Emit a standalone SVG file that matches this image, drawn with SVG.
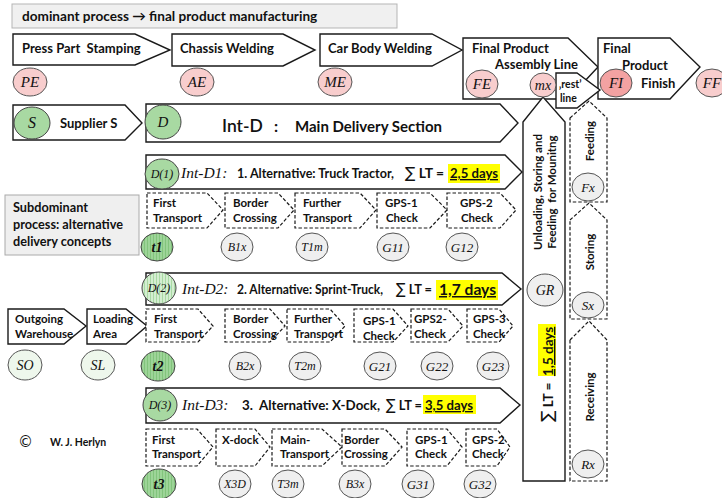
<svg xmlns="http://www.w3.org/2000/svg" width="722" height="498" viewBox="0 0 722 498">
<defs>
<pattern id="stG" width="3" height="3" patternUnits="userSpaceOnUse"><rect width="3" height="3" fill="#9dd498"/><rect width="1" height="3" fill="#82c47c"/></pattern>
<pattern id="stL" width="3" height="3" patternUnits="userSpaceOnUse"><rect width="3" height="3" fill="#d4eed1"/><rect width="1" height="3" fill="#a9d9a4"/></pattern>
<style>
.b{fill:#fff;stroke:#1a1a1a;stroke-width:1.4}
.d{fill:#fff;stroke:#1a1a1a;stroke-width:1.2;stroke-dasharray:3.5 2}
.t{font-family:Lato,"Liberation Sans",sans-serif;font-weight:bold;font-size:13px;fill:#111}
.s{font-size:11.5px}
.a{font-size:13.5px}
.cp{fill:#f8cdcd;stroke:#555;stroke-width:1}
.cf{fill:#f3a2a2;stroke:#555;stroke-width:1}
.cg{fill:#a8d9a2;stroke:#444;stroke-width:1}
.ct{fill:url(#stG);stroke:#444;stroke-width:1}
.cs{fill:url(#stL);stroke:#444;stroke-width:1}
.cw{fill:#efefef;stroke:#555;stroke-width:1}
.cl{fill:#eef7ec;stroke:#555;stroke-width:1}
.l{font-family:"Liberation Serif","DejaVu Serif",serif;font-style:italic;font-size:14px;fill:#111;text-anchor:middle}
.l12{font-size:12px}
.l13{font-size:13px}
.l15{font-size:15px}
.i{font-family:"Liberation Serif","DejaVu Serif",serif;font-style:italic;font-size:15.5px;fill:#111}
.hl{fill:#ffff00}
.u{text-decoration:underline}
.sg{font-weight:normal;font-family:"DejaVu Sans",sans-serif;font-size:15px}
</style>
</defs>

<g id="title"><rect x="12" y="4" width="385" height="24" fill="#f0f0f0" stroke="#b5b5b5"/><text class="t" x="22" y="21" style="font-size:13.6px">dominant process → final product manufacturing</text></g>

<g id="press"><polygon class="b" points="13,34 135,34 170,50 135,65 13,65"/><text class="t" x="22" y="53" xml:space="preserve">Press Part  Stamping</text></g>
<g id="chassis"><polygon class="b" points="172,34 283,34 315,50 283,66 172,66"/><text class="t" x="180" y="53">Chassis Welding</text></g>
<g id="carbody"><polygon class="b" points="320,34 432,34 462,50 432,66 320,66"/><text class="t" x="328" y="53">Car Body Welding</text></g>
<g id="assembly"><polygon class="b" points="463,38 568,38 598,67 568,99 463,99"/><text class="t" x="472" y="53">Final Product</text><text class="t" x="495" y="69">Assembly Line</text></g>
<g id="finish"><polygon class="b" points="598,38 670,38 700,67 670,99 598,99"/><text class="t" x="603" y="53">Final</text><text class="t" x="622" y="70">Product</text><text class="t" x="641" y="88">Finish</text></g>

<g id="feeding"><polygon class="d" points="570,118 589,101 607,118 607,202 570,202"/><text class="t s" transform="translate(594,141) rotate(-90)" text-anchor="middle">Feeding</text></g>
<g id="storing"><polygon class="d" points="570,220 589,203 607,220 607,319 570,319"/><text class="t s" transform="translate(594,252) rotate(-90)" text-anchor="middle">Storing</text></g>
<g id="receiving"><polygon class="d" points="570,340 589,321 607,340 607,481 570,481"/><text class="t s" transform="translate(594,397) rotate(-90)" text-anchor="middle">Receiving</text></g>

<g id="restline"><polygon class="b" points="556,73 577,73 600,90 577,108 556,108"/><text class="t" x="559" y="88" style="font-size:10.5px">‚rest’</text><text class="t" x="560" y="102" style="font-size:10.5px">line</text></g>

<g id="unloading"><polygon class="b" points="523,122 543,97 565,122 565,481 523,481"/>
<text class="t" transform="translate(542,192) rotate(-90)" text-anchor="middle" style="font-size:11.5px">Unloading, Storing and</text>
<text class="t" transform="translate(556,192) rotate(-90)" text-anchor="middle" style="font-size:11.5px" xml:space="preserve">Feeding  for Mounitng</text>
<g transform="translate(553,422) rotate(-90)"><rect class="hl" x="46" y="-15" width="52" height="18"/><text class="t" x="0" y="0" style="font-size:13.5px" xml:space="preserve"><tspan class="sg" style="font-size:17px">∑</tspan> LT =  <tspan class="u">1,5 days</tspan></text></g>
</g>

<g id="supplier"><polygon class="b" points="13,105 125,105 142,123 125,140 13,140"/><text class="t" x="60" y="128">Supplier S</text></g>
<g id="intd"><polygon class="b" points="146,104 500,104 518,123 500,142 146,142"/><text class="t" x="222" y="132" style="font-size:17.5px;font-weight:600">Int-D</text><text class="t" x="274" y="132" style="font-size:16px">:</text><text class="t" x="295" y="132" style="font-size:15px">Main Delivery Section</text></g>

<g id="intd1"><polygon class="b" points="146,155 505,155 522,172 505,189 146,189"/><rect class="hl" x="448" y="164" width="52" height="19"/><text class="i" x="181" y="178">Int-D1:</text><text class="t a" x="237" y="178" textLength="157" lengthAdjust="spacingAndGlyphs">1. Alternative: Truck Tractor,</text><text class="t a" x="405" y="178" textLength="39" lengthAdjust="spacingAndGlyphs"><tspan class="sg">∑</tspan> LT =</text><text class="t a u" x="450" y="178" textLength="48" lengthAdjust="spacingAndGlyphs">2,5 days</text></g>

<g id="subdominant"><rect x="5" y="195" width="134" height="60" fill="#efefef" stroke="#aaa"/><text class="t" x="13" y="212" style="font-size:12.7px">Subdominant</text><text class="t" x="13" y="229" style="font-size:12.7px">process: alternative</text><text class="t" x="13" y="246" style="font-size:12.7px">delivery concepts</text></g>

<g id="r1a"><polygon class="d" points="147,193 207,193 223,210 207,228 147,228"/><text class="t s" x="153" y="207">First</text><text class="t s" x="153" y="222">Transport</text></g>
<g id="r1b"><polygon class="d" points="225,193 278,193 294,210 278,228 225,228"/><text class="t s" x="233" y="207">Border</text><text class="t s" x="233" y="222">Crossing</text></g>
<g id="r1c"><polygon class="d" points="295,193 360,193 376,210 360,228 295,228"/><text class="t s" x="303" y="207">Further</text><text class="t s" x="303" y="222">Transport</text></g>
<g id="r1d"><polygon class="d" points="377,193 430,193 447,210 430,228 377,228"/><text class="t s" x="385" y="207">GPS-1</text><text class="t s" x="386" y="222">Check</text></g>
<g id="r1e"><polygon class="d" points="447,193 500,193 516,210 500,228 447,228"/><text class="t s" x="460" y="207">GPS-2</text><text class="t s" x="461" y="222">Check</text></g>

<g id="intd2"><polygon class="b" points="146,273 502,273 521,289 502,305 146,305"/><rect class="hl" x="436" y="280" width="62" height="20"/><text class="i" x="182" y="294">Int-D2:</text><text class="t a" x="237" y="294" textLength="146" lengthAdjust="spacingAndGlyphs">2. Alternative: Sprint-Truck,</text><text class="t a" x="396" y="294" textLength="36" lengthAdjust="spacingAndGlyphs"><tspan class="sg">∑</tspan> LT =</text><text class="t u" x="439" y="295" style="font-size:15px" textLength="57" lengthAdjust="spacingAndGlyphs">1,7 days</text></g>

<g id="outgoing"><polygon class="b" points="8,309 64,309 86,326 64,344 8,344"/><text class="t s" x="15" y="323">Outgoing</text><text class="t s" x="15" y="338">Warehouse</text></g>
<g id="loading"><polygon class="b" points="87,309 126,309 147,326 126,344 87,344"/><text class="t s" x="93" y="323">Loading</text><text class="t s" x="93" y="338">Area</text></g>
<g id="r2a"><polygon class="d" points="146,309 198,309 213,326 198,342 146,342"/><text class="t s" x="154" y="323">First</text><text class="t s" x="154" y="338">Transport</text></g>
<g id="r2b"><polygon class="d" points="225,309 270,309 285,326 270,342 225,342"/><text class="t s" x="233" y="323">Border</text><text class="t s" x="233" y="338">Crossing</text></g>
<g id="r2c"><polygon class="d" points="287,309 330,309 345,326 330,342 287,342"/><text class="t s" x="294" y="323">Further</text><text class="t s" x="294" y="338">Transport</text></g>
<g id="r2d"><polygon class="d" points="354,309 393,309 408,326 393,342 354,342"/><text class="t s" x="363" y="325">GPS-1</text><text class="t s" x="363" y="340">Check</text></g>
<g id="r2e"><polygon class="d" points="411,309 448,309 463,326 448,342 411,342"/><text class="t s" x="414" y="323">GPS2-</text><text class="t s" x="414" y="338">Check</text></g>
<g id="r2f"><polygon class="d" points="467,309 499,309 513,326 499,342 467,342"/><text class="t s" x="473" y="323">GPS-3</text><text class="t s" x="473" y="338">Check</text></g>

<g id="intd3"><polygon class="b" points="146,388 500,388 520,405 500,423 146,423"/><rect class="hl" x="423" y="395" width="53" height="19"/><text class="i" x="182" y="410">Int-D3:</text><text class="t a" x="242" y="410" textLength="138" lengthAdjust="spacingAndGlyphs" xml:space="preserve">3.  Alternative: X-Dock,</text><text class="t a" x="386" y="410" textLength="36" lengthAdjust="spacingAndGlyphs"><tspan class="sg">∑</tspan> LT =</text><text class="t a u" x="425" y="410" textLength="48" lengthAdjust="spacingAndGlyphs">3,5 days</text></g>

<g id="r3a"><polygon class="d" points="146,429 197,429 213,447 197,466 146,466"/><text class="t s" x="152" y="444">First</text><text class="t s" x="152" y="458">Transport</text></g>
<g id="r3b"><polygon class="d" points="216,429 255,429 270,447 255,466 216,466"/><text class="t s" x="222" y="444">X-dock</text></g>
<g id="r3c"><polygon class="d" points="272,429 322,429 342,447 322,466 272,466"/><text class="t s" x="280" y="444">Main-</text><text class="t s" x="280" y="458">Transport</text></g>
<g id="r3d"><polygon class="d" points="342,429 385,429 402,447 385,466 342,466"/><text class="t s" x="344" y="444">Border</text><text class="t s" x="344" y="458">Crossing</text></g>
<g id="r3e"><polygon class="d" points="407,429 447,429 462,447 447,466 407,466"/><text class="t s" x="415" y="444">GPS-1</text><text class="t s" x="415" y="458">Check</text></g>
<g id="r3f"><polygon class="d" points="466,429 497,429 510,447 497,466 466,466"/><text class="t s" x="472" y="444">GPS-2</text><text class="t s" x="472" y="458">Check</text></g>

<g id="copyright"><text x="18" y="447" font-family="DejaVu Sans,sans-serif" font-size="15" fill="#111">©</text><text class="t" x="50" y="446" style="font-size:10.5px">W. J. Herlyn</text></g>

<g id="circles">
<g id="cPE"><ellipse class="cp" cx="30" cy="82" rx="17" ry="14"/><text class="l l15" x="30" y="87">PE</text></g>
<g id="cAE"><ellipse class="cp" cx="197" cy="82" rx="17" ry="14"/><text class="l l15" x="197" y="87">AE</text></g>
<g id="cME"><ellipse class="cp" cx="335" cy="82" rx="17" ry="14"/><text class="l l15" x="335" y="87">ME</text></g>
<g id="cFE"><ellipse class="cp" cx="482" cy="84" rx="16" ry="14"/><text class="l l15" x="482" y="89">FE</text></g>
<g id="cmx"><ellipse class="cp" cx="543" cy="85" rx="13" ry="12"/><text class="l" x="543" y="90">mx</text></g>
<g id="cFI"><ellipse class="cf" cx="616" cy="83" rx="16" ry="14"/><text class="l l15" x="616" y="88">FI</text></g>
<g id="cFF"><ellipse class="cp" cx="712" cy="83" rx="16" ry="14"/><text class="l l15" x="712" y="88">FF</text></g>
<g id="cS"><ellipse class="cg" cx="32" cy="123" rx="18" ry="16"/><text class="l" x="32" y="128" style="font-size:16px">S</text></g>
<g id="cD"><ellipse class="cg" cx="163" cy="122" rx="18" ry="17"/><text class="l l15" x="163" y="127">D</text></g>
<g id="cD1"><ellipse class="cg" cx="162" cy="174" rx="17" ry="15"/><text class="l l12" x="162" y="178">D(1)</text></g>
<g id="cD2"><ellipse class="cs" cx="159" cy="288" rx="17" ry="16"/><text class="l l12" x="159" y="292">D(2)</text></g>
<g id="cD3"><ellipse class="cg" cx="160" cy="405" rx="17" ry="16"/><text class="l l12" x="160" y="409">D(3)</text></g>
<g id="ct1"><ellipse class="ct" cx="157" cy="247" rx="16" ry="14"/><text class="l" x="157" y="252" font-weight="bold">t1</text></g>
<g id="cB1x"><ellipse class="cw" cx="237" cy="247" rx="16" ry="14"/><text class="l l12" x="237" y="251">B1x</text></g>
<g id="cT1m"><ellipse class="cw" cx="312" cy="247" rx="16" ry="14"/><text class="l l12" x="312" y="251">T1m</text></g>
<g id="cG11"><ellipse class="cw" cx="393" cy="247" rx="16" ry="14"/><text class="l l13" x="393" y="252">G11</text></g>
<g id="cG12"><ellipse class="cw" cx="462" cy="247" rx="16" ry="14"/><text class="l l13" x="462" y="252">G12</text></g>
<g id="cSO"><ellipse class="cl" cx="25" cy="365" rx="17" ry="15"/><text class="l" x="25" y="370">SO</text></g>
<g id="cSL"><ellipse class="cl" cx="98" cy="365" rx="17" ry="15"/><text class="l" x="98" y="370">SL</text></g>
<g id="ct2"><ellipse class="ct" cx="158" cy="366" rx="17" ry="15"/><text class="l" x="158" y="371" font-weight="bold">t2</text></g>
<g id="cB2x"><ellipse class="cw" cx="245" cy="366" rx="16" ry="14"/><text class="l l12" x="245" y="370">B2x</text></g>
<g id="cT2m"><ellipse class="cw" cx="305" cy="366" rx="16" ry="14"/><text class="l l12" x="305" y="370">T2m</text></g>
<g id="cG21"><ellipse class="cw" cx="380" cy="366" rx="16" ry="14"/><text class="l l13" x="380" y="371">G21</text></g>
<g id="cG22"><ellipse class="cw" cx="437" cy="366" rx="16" ry="14"/><text class="l l13" x="437" y="371">G22</text></g>
<g id="cG23"><ellipse class="cw" cx="493" cy="366" rx="16" ry="14"/><text class="l l13" x="493" y="371">G23</text></g>
<g id="ct3"><ellipse class="ct" cx="159" cy="484" rx="17" ry="15"/><text class="l" x="159" y="489" font-weight="bold">t3</text></g>
<g id="cX3D"><ellipse class="cw" cx="235" cy="484" rx="16" ry="14"/><text class="l l12" x="235" y="488">X3D</text></g>
<g id="cT3m"><ellipse class="cw" cx="288" cy="484" rx="16" ry="14"/><text class="l l12" x="288" y="488">T3m</text></g>
<g id="cB3x"><ellipse class="cw" cx="355" cy="484" rx="16" ry="14"/><text class="l l12" x="355" y="488">B3x</text></g>
<g id="cG31"><ellipse class="cw" cx="418" cy="484" rx="16" ry="14"/><text class="l l13" x="418" y="489">G31</text></g>
<g id="cG32"><ellipse class="cw" cx="480" cy="484" rx="16" ry="14"/><text class="l l13" x="480" y="489">G32</text></g>
<g id="cGR"><ellipse class="cw" cx="545" cy="290" rx="18" ry="16"/><text class="l" x="545" y="295">GR</text></g>
<g id="cFx"><ellipse class="cw" cx="588" cy="187" rx="16" ry="14"/><text class="l l13" x="588" y="192">Fx</text></g>
<g id="cSx"><ellipse class="cw" cx="588" cy="305" rx="16" ry="13"/><text class="l l13" x="588" y="310">Sx</text></g>
<g id="cRx"><ellipse class="cw" cx="588" cy="464" rx="16" ry="14"/><text class="l l13" x="588" y="469">Rx</text></g>
</g>
<g id="connectors"></g>
</svg>
